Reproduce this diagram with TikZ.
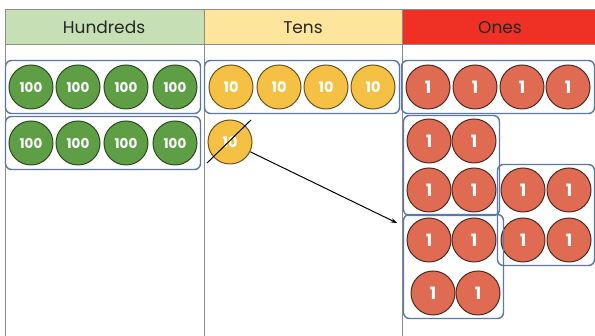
\documentclass[tikz,border=0pt]{standalone}
\usepackage{fontspec}
\setmainfont{Poppins}
\usetikzlibrary{arrows.meta,fit}
\definecolor{PvGrid}{HTML}{8C8C8C}
\definecolor{PvHundredHead}{HTML}{C6DFB4}
\definecolor{PvTenHead}{HTML}{FDE69C}
\definecolor{PvOneHead}{HTML}{EE3124}
\definecolor{PvGreen}{HTML}{5E9E45}
\definecolor{PvGreenLine}{HTML}{2E4A24}
\definecolor{PvYellow}{HTML}{F4C145}
\definecolor{PvYellowLine}{HTML}{6B5220}
\definecolor{PvRed}{HTML}{DF6C52}
\definecolor{PvRedLine}{HTML}{4E2A22}
\definecolor{PvGroup}{HTML}{5A79A8}
\tikzset{
  pvhead/.style={font=\fontsize{17}{19}\selectfont, text=black!85},
  pvcounter/.style={
    circle,
    minimum size=44pt,
    inner sep=0pt,
    line width=1pt,
    text=white,
    font=\bfseries
  },
  pvhundred/.style={pvcounter, fill=PvGreen, draw=PvGreenLine, font=\bfseries\fontsize{13.5}{15}\selectfont},
  pvten/.style={pvcounter, fill=PvYellow, draw=PvYellowLine, font=\bfseries\fontsize{14.5}{16}\selectfont},
  pvone/.style={pvcounter, fill=PvRed, draw=PvRedLine, font=\bfseries\fontsize{17}{19}\selectfont},
  pvgroup/.style={draw=PvGroup, line width=1.4pt, rounded corners=6pt, inner sep=3pt},
  pvarrow/.style={-{Stealth[length=2.2mm,width=1.6mm]}, line width=1pt, draw=black}
}
\begin{document}
\begin{tikzpicture}[x=1pt,y=-1pt]
  \useasboundingbox (0,0) rectangle (595,336);
  \clip (0,0) rectangle (595,336);
  % column headers
  \fill[PvHundredHead] (5,10) rectangle (204,45);
  \fill[PvTenHead] (204,10) rectangle (402,45);
  \fill[PvOneHead] (402,10) rectangle (600,45);
  \draw[PvGrid, line width=1pt] (600,10) -- (5,10) -- (5,340);
  \draw[PvGrid, line width=1pt] (5,45) -- (600,45);
  \draw[PvGrid, line width=1pt] (204,10) -- (204,340);
  \draw[PvGrid, line width=1pt] (402,10) -- (402,340);
  \node[pvhead] (hundreds) at (104,27.5) {Hundreds};
  \node[pvhead] (tens) at (303,27.5) {Tens};
  \node[pvhead] (ones) at (500,27.5) {Ones};

  % hundreds
  \foreach \i/\x in {1/31,2/78,3/126,4/175} {
    \node[pvhundred] (h\i) at (\x,87) {100};
    \node[pvhundred] (hh\i) at (\x,143) {100};
  }
  \node[pvgroup, fit=(h1)(h4), inner xsep=3pt, inner ysep=4pt] (hgroupa) {};
  \node[pvgroup, fit=(hh1)(hh4), inner xsep=3pt, inner ysep=4pt] (hgroupb) {};

  % tens
  \foreach \i/\x in {1/231,2/279,3/326,4/373}
    \node[pvten] (t\i) at (\x,87) {10};
  \node[pvgroup, fit=(t1)(t4), inner xsep=4pt, inner ysep=4pt] (tgroup) {};
  \node[pvten] (t5) at (230,142) {10};
  \coordinate (slashA) at (207,163);
  \coordinate (slashB) at (251,120);
  \draw[line width=1pt] (slashA) -- (slashB);

  % ones
  \foreach \i/\x in {1/428,2/475,3/522,4/568}
    \node[pvone] (o\i) at (\x,87) {1};
  \node[pvgroup, fit=(o1)(o4), inner xsep=4pt, inner ysep=4pt] (ogroupa) {};
  \node[pvone] (o5) at (429,141) {1};
  \node[pvone] (o6) at (474,141) {1};
  \node[pvone] (o7) at (429,190) {1};
  \node[pvone] (o8) at (474,190) {1};
  \node[pvgroup, fit=(o5)(o8)] (ogroupb) {};
  \node[pvone] (o9) at (523,190) {1};
  \node[pvone] (o10) at (569,190) {1};
  \node[pvone] (o11) at (523,240) {1};
  \node[pvone] (o12) at (569,240) {1};
  \node[pvgroup, fit=(o9)(o12)] (ogroupc) {};
  \node[pvone] (o13) at (429,240) {1};
  \node[pvone] (o14) at (474,240) {1};
  \node[pvone] (o15) at (433,293) {1};
  \node[pvone] (o16) at (478,293) {1};
  \node[pvgroup, fit=(o13)(o16)] (ogroupd) {};

  % exchange
  \coordinate (exchange) at (397,223);
  \draw[pvarrow] (t5) -- (exchange);
\end{tikzpicture}
\end{document}
